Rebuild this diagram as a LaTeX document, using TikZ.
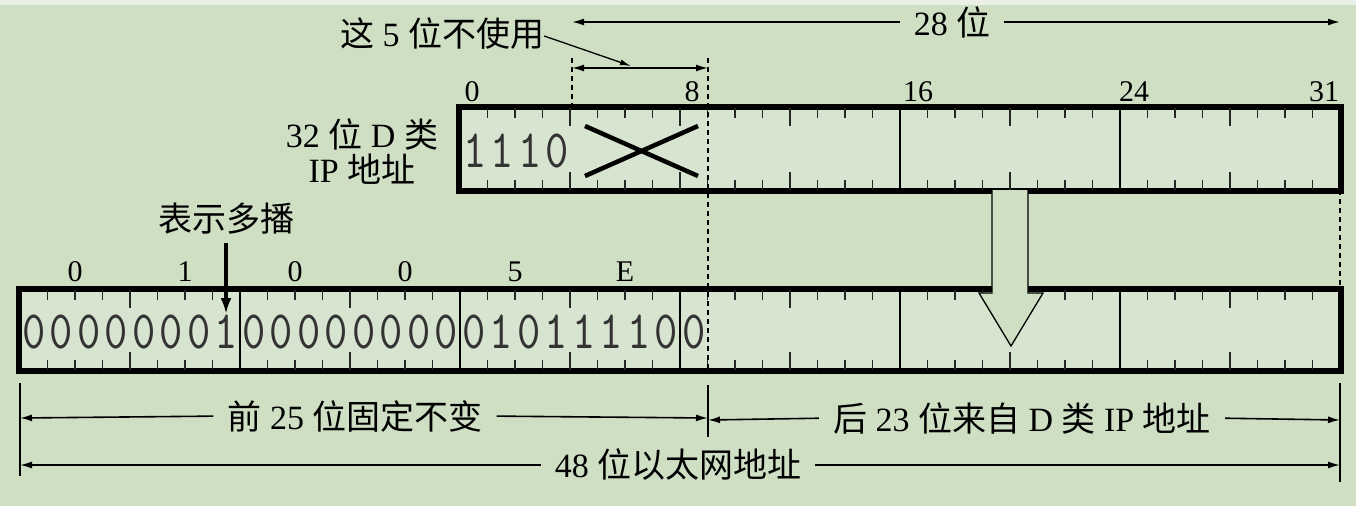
\documentclass[tikz,border=0pt]{standalone}
\usepackage{fontspec}
\setmainfont{Liberation Serif}
\newfontfamily\cjk{Noto Sans CJK SC}
\newfontfamily\bitf{lmmono10-regular.otf}
\usetikzlibrary{arrows.meta}
\definecolor{bg}{RGB}{207,223,196}
\definecolor{boxfill}{RGB}{215,228,207}
\definecolor{topstrip}{RGB}{234,240,232}
\newcommand{\zh}[1]{{\cjk #1}}
\newcommand{\bd}[1]{\scalebox{0.82}[1]{#1}}
\begin{document}
\begin{tikzpicture}[x=1pt,y=-1pt,
  lab/.style={font=\fontsize{34}{34}\selectfont, inner sep=0pt},
  num/.style={font=\fontsize{30}{30}\selectfont, inner sep=0pt},
  bit/.style={font=\fontsize{54}{54}\bitf, inner sep=0pt, text=black!80},
  regbox/.style={draw=black, line width=3.8pt, fill=boxfill, inner sep=0pt},
  tk/.style={line width=1.5pt, black!85},
  sep/.style={line width=1.3pt},
  guide/.style={dash pattern=on 5pt off 4pt, line width=1.1pt},
  dim/.style={line width=1.6pt, -{Latex[length=12pt,width=7pt]}},
  bar/.style={line width=1.4pt},
]
\useasboundingbox (0,0) rectangle (1356,506);
\fill[bg] (0,0) rectangle (1356,506);
\fill[topstrip] (0,0) rectangle (1356,5);

% ---------------- top box: 32-bit class D IP address
\node[regbox, minimum width=880pt, minimum height=82pt] (ip) at (900,149) {};
\foreach \i in {1,...,31}{
  \pgfmathsetmacro\tl{ifthenelse(mod(\i,4)==0,18,10)}
  \draw[tk] ({460+27.5*\i},108) -- ++(0,\tl) ({460+27.5*\i},190) -- ++(0,-\tl);
}
\draw[sep] (900,108) -- (900,190);
\draw[sep] (1120,108) -- (1120,190);
\draw[line width=3.8pt] (ip.north west) rectangle (ip.south east);

\foreach \d [count=\i from 0] in {1,1,1,0}{
  \node[bit] (t\i) at ({461+27.5*(\i+0.5)},151) {\bd{\d}};
}
\coordinate (xa) at (585,126);
\coordinate (xb) at (698,176);
\coordinate (xc) at (585,176);
\coordinate (xd) at (698,126);
\draw[line width=4.5pt] (xa) -- (xb) (xc) -- (xd);

% scale labels
\node[num] (s0) at (472,92) {0};
\node[num] (s8) at (692,92) {8};
\node[num] (s16) at (918,92) {16};
\node[num] (s24) at (1134,92) {24};
\node[num] (s31) at (1324,92) {31};

\node[lab] (l32) at (362,134) {32 \zh{位} D \zh{类}};
\node[lab] (lip) at (362,169) {IP \zh{地址}};

% ---------------- bottom box: 48-bit Ethernet address
\node[regbox, minimum width=1320pt, minimum height=80pt] (eth) at (680,330) {};
\foreach \i in {1,...,47}{
  \pgfmathsetmacro\tl{ifthenelse(mod(\i,4)==0,18,10)}
  \draw[tk] ({20+27.5*\i},290) -- ++(0,\tl) ({20+27.5*\i},370) -- ++(0,-\tl);
}
\foreach \k in {240,460,680,900,1120}{
  \draw[sep] (\k,290) -- (\k,370);
}
\draw[line width=3.8pt] (eth.north west) rectangle (eth.south east);

\foreach \d [count=\i from 0] in {0,0,0,0,0,0,0,1,0,0,0,0,0,0,0,0,0,1,0,1,1,1,1,0,0}{
  \node[bit] (b\i) at ({20+27.5*(\i+0.5)},332) {\bd{\d}};
}

% hex labels
\foreach \h [count=\i from 0] in {0,1,0,0,5,E}{
  \node[num] (h\i) at ({75+110*\i},272) {\h};
}

% multicast marker
\node[lab] (mc) at (226,219) {\zh{表示多播}};
\coordinate (mcend) at (226,314);
\draw[line width=4pt, -{Latex[length=16pt,width=11pt]}] (mc.south) ++(0,8) coordinate (mcstart) -- (mcend);

% hollow mapping arrow
\coordinate (ha1) at (992,190);
\coordinate (ha2) at (992,293);
\coordinate (ha3) at (979,293);
\coordinate (ha4) at (1011,346);
\coordinate (ha5) at (1043,293);
\coordinate (ha6) at (1028,293);
\coordinate (ha7) at (1028,190);
\filldraw[fill=bg, draw=black, line width=1.3pt, line join=miter] (ha1) -- (ha2) -- (ha3) -- (ha4) -- (ha5) -- (ha6) -- (ha7);

% ---------------- guide lines
\coordinate (g4t) at (572,58);
\coordinate (g4b) at (572,108);
\coordinate (g9t) at (708,58);
\coordinate (g9b) at (708,370);
\coordinate (gRt) at (1340,190);
\coordinate (gRb) at (1340,290);
\draw[guide] (g4t) -- (g4b);
\draw[guide] (g9t) -- (g9b);
\draw[guide] (gRt) -- (gRb);

% 5 unused bits
\coordinate (u1) at (572,68);
\coordinate (u2) at (708,68);
\draw[line width=1.6pt, {Latex[length=12pt,width=7pt]}-{Latex[length=12pt,width=7pt]}] (u1) -- (u2);
\node[lab] (unused) at (442,34) {\zh{这} 5 \zh{位不使用}};
\coordinate (ut) at (631,66);
\draw[line width=1.3pt, -{Latex[length=11pt,width=6pt]}] (unused.east) ++(0,2) -- (ut);

% 28 bits
\node[lab] (t28) at (952,22) {28 \zh{位}};
\coordinate (t28l) at (572,22);
\coordinate (t28r) at (1340,22);
\draw[dim, shorten <=14pt] (t28.west) -- (t28l);
\draw[dim, shorten <=14pt] (t28.east) -- (t28r);

% ---------------- bottom dimensions
\coordinate (vl1) at (20,383);  \coordinate (vl2) at (20,476);
\coordinate (vm1) at (708,385); \coordinate (vm2) at (708,437);
\coordinate (vr1) at (1340,383);\coordinate (vr2) at (1340,482);
\draw[bar] (vl1) -- (vl2);
\draw[bar] (vm1) -- (vm2);
\draw[bar] (vr1) -- (vr2);

\node[lab] (f25) at (355,416) {\zh{前} 25 \zh{位固定不变}};
\coordinate (f25l) at (20,418);
\coordinate (f25r) at (708,418);
\draw[dim, shorten <=14pt] (f25.west) -- (f25l);
\draw[dim, shorten <=14pt] (f25.east) -- (f25r);

\node[lab] (l23) at (1022,418) {\zh{后} 23 \zh{位来自} D \zh{类} IP \zh{地址}};
\coordinate (l23l) at (708,420);
\coordinate (l23r) at (1340,420);
\draw[dim, shorten <=14pt] (l23.west) -- (l23l);
\draw[dim, shorten <=14pt] (l23.east) -- (l23r);

\node[lab] (e48) at (678,465) {48 \zh{位以太网地址}};
\coordinate (e48l) at (20,465);
\coordinate (e48r) at (1340,465);
\draw[dim, shorten <=14pt] (e48.west) -- (e48l);
\draw[dim, shorten <=14pt] (e48.east) -- (e48r);
\end{tikzpicture}
\end{document}
